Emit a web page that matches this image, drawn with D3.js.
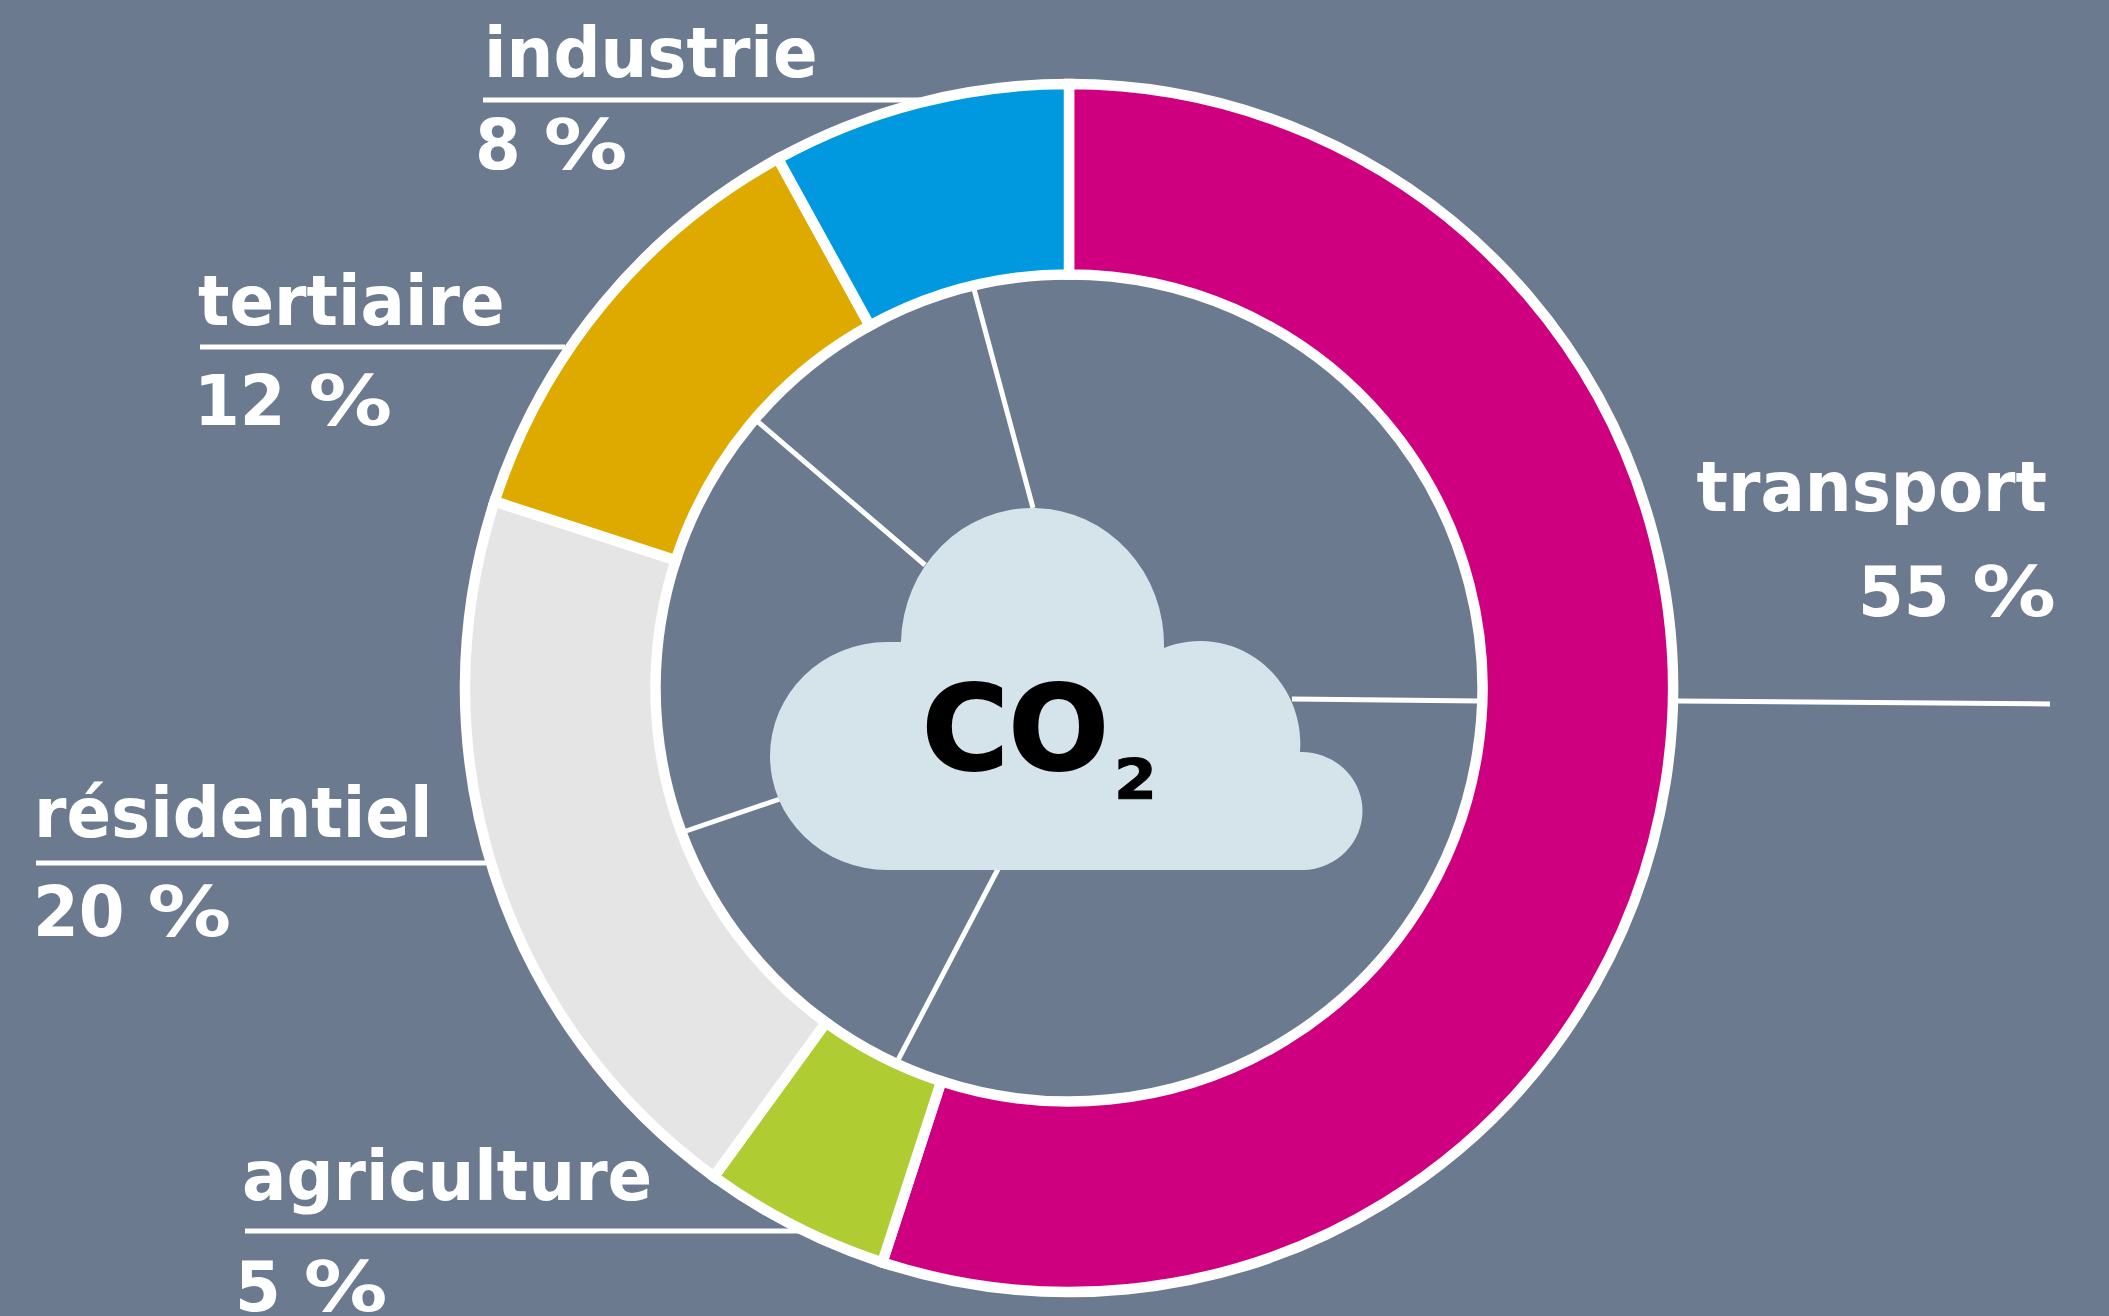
<!DOCTYPE html>
<html><head><meta charset="utf-8">
<script src="https://cdn.jsdelivr.net/npm/d3@7"></script>
<style>html,body{margin:0;padding:0;background:#6b7a8e}svg{display:block}text{font-family:"DejaVu Sans";font-weight:700}</style>
</head><body><svg id="c" width="2109" height="1316"></svg>
<script>
const categories = ["transport","agriculture","résidentiel","tertiaire","industrie"];
const values = [55,5,20,12,8];
const valueNumbers = ["55","5","20","12","8"];
const colors = ["#cf007f","#b0cc33","#e5e5e5","#dfaa00","#0099e0"];
const W=2109,H=1316,cx=1069,cy=688,rO=604,rI=413.5;
const svg=d3.select("#c");
svg.append("rect").attr("width",W).attr("height",H).attr("fill","#6b7a8e");

const layout=[
 {name:[2047,511,"end"],val:[2056,616,"end"],line:[1678,701,2050,704]},
 {name:[242,1200,"start"],val:[235,1311,"start"],line:[245,1231,805,1231]},
 {name:[34,837,"start"],val:[33,936,"start"],line:[36,863,486,863]},
 {name:[198,325,"start"],val:[194,425,"start"],line:[200,347,565,347]},
 {name:[484,77,"start"],val:[475,169,"start"],line:[483,100,920,100]}
];
const spokes=[[1480,701,1292,699],[897,1062,998,869],[686,831,780,799],[757,421,925,565],[974,289,1033,508]];

const g=svg.append("g");
g.selectAll("line.leader").data(layout).join("line").attr("class","leader")
 .attr("x1",d=>d.line[0]).attr("y1",d=>d.line[1]).attr("x2",d=>d.line[2]).attr("y2",d=>d.line[3])
 .attr("stroke","#fff").attr("stroke-width",5);
g.selectAll("line.spoke").data(spokes).join("line").attr("class","spoke")
 .attr("x1",d=>d[0]).attr("y1",d=>d[1]).attr("x2",d=>d[2]).attr("y2",d=>d[3])
 .attr("stroke","#fff").attr("stroke-width",5);

const pie=d3.pie().sort(null).value(d=>d);
const arc=d3.arc().innerRadius(rI).outerRadius(rO);
svg.append("g").attr("transform",`translate(${cx},${cy})`)
 .selectAll("path").data(pie(values)).join("path")
 .attr("d",arc).attr("fill",(d,i)=>colors[i]).attr("stroke","#fff").attr("stroke-width",10.5).attr("stroke-linejoin","miter");

svg.append("path").attr("fill","#d5e4ea")
 .attr("d","M887 870A117 114 0 0 1 887 642L901 642A131.5 137 0 1 1 1164 648A100 103 0 0 1 1300 752A61 59 0 0 1 1303 870Z");

const fs=70,sx=0.94;
categories.forEach((c,i)=>{
 const l=layout[i];
 svg.append("text").attr("transform",`translate(${l.name[0]},${l.name[1]}) scale(${sx},1)`).attr("text-anchor",l.name[2]).attr("font-size",fs).attr("fill","#fff").text(c);
 const t=svg.append("text").attr("transform",`translate(${l.val[0]},${l.val[1]}) scale(${sx},1)`).attr("text-anchor",l.val[2]).attr("font-size",fs).attr("fill","#fff");
 t.append("tspan").text(valueNumbers[i]+" ");
 t.append("tspan").attr("textLength",89).attr("lengthAdjust","spacingAndGlyphs").text("%");
});
svg.append("text").attr("x",922).attr("y",769).attr("font-size",118).attr("fill","#000").attr("stroke","#000").attr("stroke-width",2).text("CO");
svg.append("text").attr("transform","translate(1114,798) scale(1.1,1)").attr("font-size",56).attr("fill","#000").attr("stroke","#000").attr("stroke-width",1).text("2");
</script></body></html>
